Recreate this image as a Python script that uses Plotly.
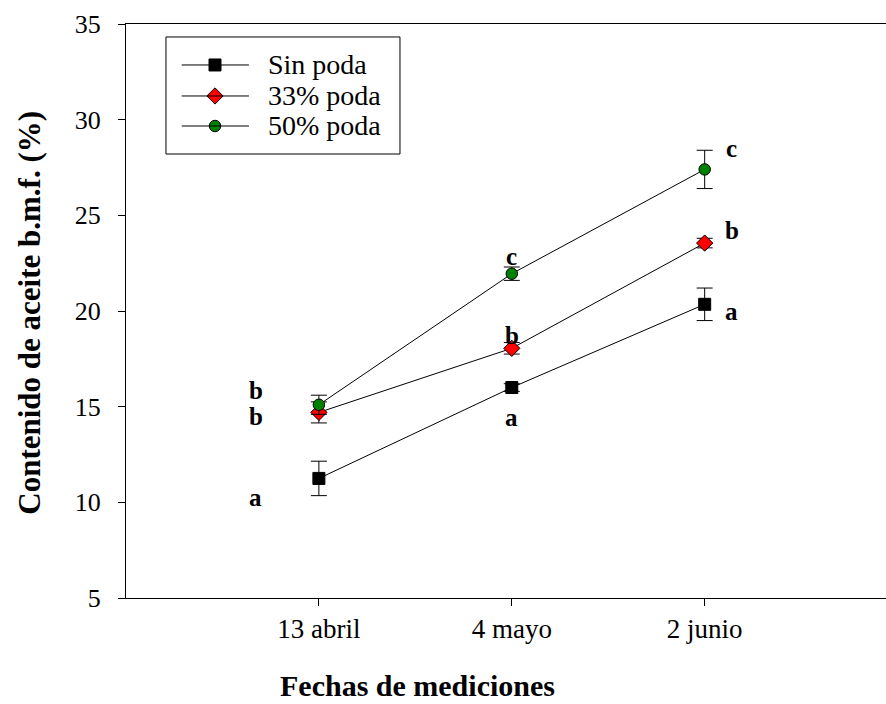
import plotly.graph_objects as go

# Measurement dates and oil content (%, fresh-matter basis) per pruning level
fechas = ["13 abril", "4 mayo", "2 junio"]

sin_poda = [11.25, 16.0, 20.35]
sin_poda_err = [0.9, 0.2, 0.85]

poda_33 = [14.7, 18.05, 23.55]
poda_33_err = [0.55, 0.3, 0.25]

poda_50 = [15.1, 21.95, 27.4]
poda_50_err = [0.5, 0.35, 1.0]

# Mean-separation letters per date
letras_sin = ["a", "a", "a"]
letras_33 = ["b", "b", "b"]
letras_50 = ["b", "c", "c"]

series_names = ["Sin poda", "33% poda", "50% poda"]

FONT = "Liberation Serif, DejaVu Serif, serif"
x_pos = [1, 2, 3]

series = [
    dict(name=series_names[0], y=sin_poda, err=sin_poda_err, letters=letras_sin,
         symbol="square", color="black", size=12,
         shifts=[(-63, -19), (0, -30), (27, -7)]),
    dict(name=series_names[1], y=poda_33, err=poda_33_err, letters=letras_33,
         symbol="diamond", color="#ff0000", size=12.5,
         shifts=[(-63, -4), (0, 13), (27, 13)]),
    dict(name=series_names[2], y=poda_50, err=poda_50_err, letters=letras_50,
         symbol="circle", color="#008000", size=11.5,
         shifts=[(-63, 14), (0, 17), (27, 21)]),
]

fig = go.Figure()

annotations = []
for s in series:
    fig.add_trace(go.Scatter(
        x=x_pos, y=s["y"], mode="lines+markers", name=s["name"],
        line=dict(color="black", width=1),
        marker=dict(symbol=s["symbol"], color=s["color"], size=s["size"],
                    line=dict(color="black", width=1)),
        error_y=dict(type="data", array=s["err"], color="black",
                     thickness=1, width=8),
        showlegend=False,
    ))
    for xi, yi, letter, (dx, dy) in zip(x_pos, s["y"], s["letters"], s["shifts"]):
        annotations.append(dict(
            x=xi, y=yi, xref="x", yref="y", text="<b>" + letter + "</b>",
            showarrow=False, xshift=dx, yshift=dy,
            font=dict(family=FONT, size=25, color="black"),
        ))

# Boxed legend drawn in plot-area fractions on a hidden overlay axis pair
legend_rows = [0.9286, 0.8746, 0.8223]
leg_line = (0.0733, 0.1618)
leg_mark_x = 0.1171
leg_text_x = 0.1842

shapes = [dict(type="rect", xref="paper", yref="paper",
               x0=0.0526, x1=0.3605, y0=0.7735, y1=0.9774,
               line=dict(color="black", width=1), fillcolor="white",
               layer="below")]
for s, ry in zip(series, legend_rows):
    shapes.append(dict(type="line", xref="paper", yref="paper",
                       x0=leg_line[0], x1=leg_line[1], y0=ry, y1=ry,
                       line=dict(color="black", width=1)))
    fig.add_trace(go.Scatter(
        x=[leg_mark_x], y=[ry], xaxis="x2", yaxis="y2", mode="markers",
        marker=dict(symbol=s["symbol"], color=s["color"], size=s["size"],
                    line=dict(color="black", width=1)),
        showlegend=False, hoverinfo="skip",
    ))
    annotations.append(dict(
        x=leg_text_x, y=ry, xref="paper", yref="paper", text=s["name"],
        showarrow=False, xanchor="left", yanchor="middle",
        font=dict(family=FONT, size=28, color="black"),
    ))

# Axis titles
annotations.append(dict(
    x=0.384, y=-0.153, xref="paper", yref="paper",
    text="<b>Fechas de mediciones</b>", showarrow=False,
    xanchor="center", yanchor="middle",
    font=dict(family=FONT, size=30, color="black"),
))
annotations.append(dict(
    x=-0.1263, y=0.497, xref="paper", yref="paper",
    text="<b>Contenido de aceite b.m.f. (%)</b>", showarrow=False,
    textangle=-90, xanchor="center", yanchor="middle",
    font=dict(family=FONT, size=31, color="black"),
))

fig.update_layout(
    width=886, height=704,
    margin=dict(l=126, r=0, t=24, b=106),
    paper_bgcolor="white", plot_bgcolor="white",
    font=dict(family=FONT, color="black"),
    xaxis=dict(
        range=[0, 3.94], tickmode="array", tickvals=x_pos, ticktext=fechas,
        showline=True, linecolor="black", linewidth=1, mirror=True,
        ticks="outside", ticklen=7, tickcolor="black",
        showgrid=False, zeroline=False,
        tickfont=dict(family=FONT, size=27, color="black"),
        ticklabelstandoff=0,
    ),
    yaxis=dict(
        range=[5, 35], tickmode="array", tickvals=[5, 10, 15, 20, 25, 30, 35],
        showline=True, linecolor="black", linewidth=1,
        ticks="outside", ticklen=7, tickcolor="black",
        showgrid=False, zeroline=False,
        tickfont=dict(family=FONT, size=26, color="black"),
        ticklabelstandoff=12,
    ),
    xaxis2=dict(overlaying="x", range=[0, 1], visible=False),
    yaxis2=dict(overlaying="y", range=[0, 1], visible=False),
    shapes=shapes,
    annotations=annotations,
)

fig.write_html("out.html")
